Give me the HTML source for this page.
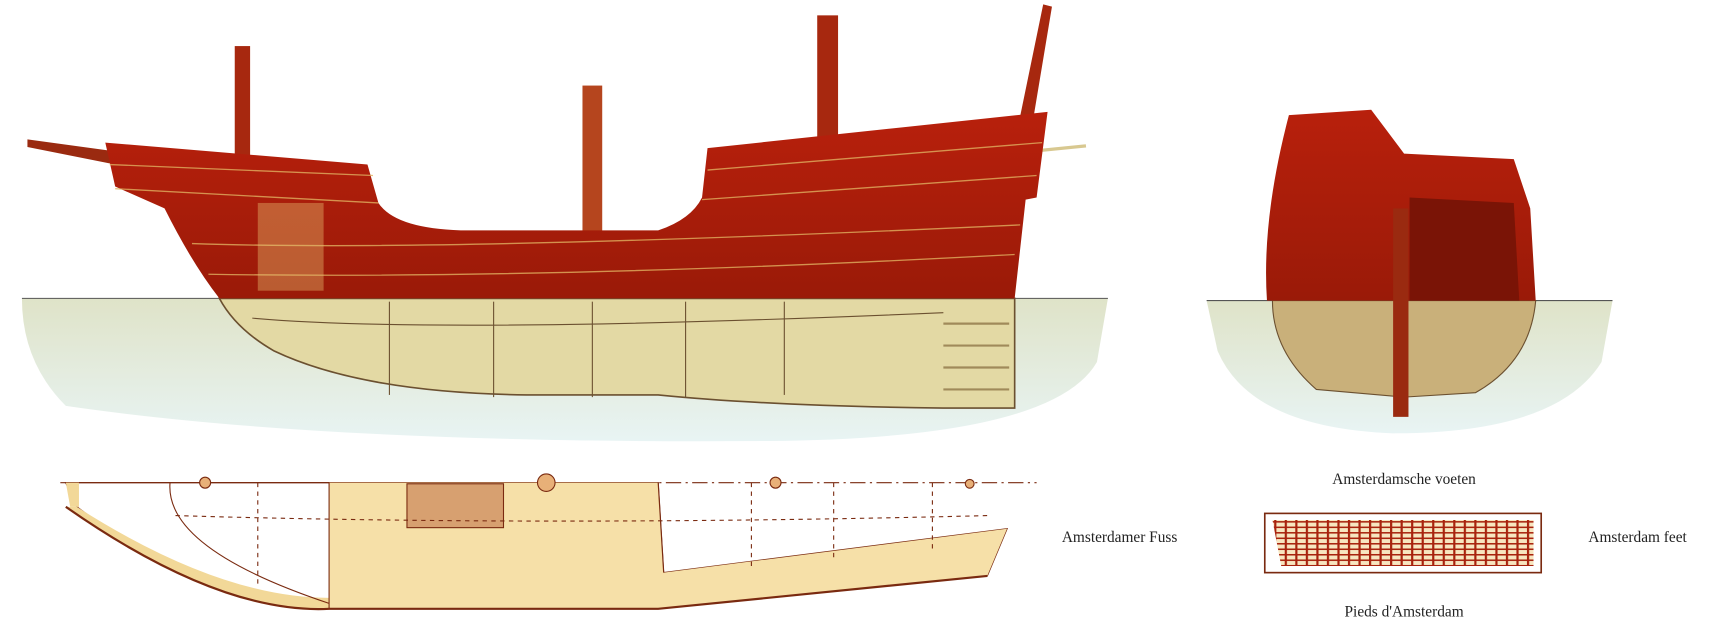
<!DOCTYPE html>
<html><head><meta charset="utf-8"><style>
html,body{margin:0;padding:0;background:#fff;}
svg{display:block;}
text{font-family:"Liberation Serif",serif;font-size:14px;fill:#222;}
</style></head><body>
<svg width="1720" height="622" viewBox="0 0 1568 567" preserveAspectRatio="none" xmlns="http://www.w3.org/2000/svg">
<defs>
<linearGradient id="water" x1="0" y1="0" x2="0" y2="1">
<stop offset="0" stop-color="#dfe3c8"/><stop offset="1" stop-color="#e8f4f4"/></linearGradient>
<linearGradient id="red" x1="0" y1="0" x2="0" y2="1">
<stop offset="0" stop-color="#b8200c"/><stop offset="1" stop-color="#9a1a08"/></linearGradient>
<pattern id="grid" width="9.6" height="5" patternUnits="userSpaceOnUse">
<rect width="9.6" height="5" fill="#f7e6c0"/><rect width="2" height="5" fill="#a8230e"/><rect width="9.6" height="1.4" fill="#a8230e"/></pattern>
</defs>
<path d="M20 272 L1010 272 L1000 330 Q960 400 700 402 Q300 405 60 370 Q20 330 20 272Z" fill="url(#water)"/>
<line x1="20" y1="272" x2="1010" y2="272" stroke="#555" stroke-width="1"/>
<path d="M200 272 L925 272 L925 372 L860 372 Q700 370 600 360 L480 360 Q330 358 250 320 Q215 300 200 272Z" fill="#e3d9a4" stroke="#6b5030" stroke-width="1.5"/>
<path d="M230 290 Q400 305 860 285" fill="none" stroke="#6b5030"/>
<g stroke="#6b5030" stroke-width="1"><line x1="355" y1="275" x2="355" y2="360"/><line x1="450" y1="275" x2="450" y2="362"/><line x1="540" y1="275" x2="540" y2="362"/><line x1="625" y1="275" x2="625" y2="362"/><line x1="715" y1="275" x2="715" y2="360"/></g>
<g stroke="#a08a5a" stroke-width="2"><line x1="860" y1="295" x2="920" y2="295"/><line x1="860" y1="315" x2="920" y2="315"/><line x1="860" y1="335" x2="920" y2="335"/><line x1="860" y1="355" x2="920" y2="355"/></g>
<rect x="214" y="42" width="14" height="100" fill="#a7280f"/>
<rect x="531" y="78" width="18" height="135" fill="#b5451e"/>
<rect x="745" y="14" width="19" height="120" fill="#a7280f"/>
<polygon points="951,4 959,6 942,108 930,106" fill="#a7280f"/>
<polygon points="25,127 105,138 105,150 25,134" fill="#9a2a10"/>
<line x1="950" y1="137" x2="990" y2="133" stroke="#d8c890" stroke-width="3"/>
<path d="M96 130 L335 150 L345 185 Q360 208 420 210 L600 210 Q630 200 640 180 L645 135 L955 102 L945 180 L935 182 L925 272 L200 272 Q175 240 150 190 L105 170 Z" fill="url(#red)"/>
<g stroke="#e0b060" stroke-width="1.2" fill="none" opacity=".8">
<path d="M100 150 L340 160"/><path d="M105 172 L345 185"/>
<path d="M175 222 Q400 230 930 205"/><path d="M190 250 Q500 255 925 232"/>
<path d="M645 155 L950 130"/><path d="M640 182 L945 160"/>
</g>
<g fill="#e8c070"><rect x="235" y="185" width="60" height="80" opacity=".4"/></g>
<path d="M1100 274 L1470 274 L1460 330 Q1420 395 1270 395 Q1140 390 1110 320Z" fill="url(#water)"/>
<line x1="1100" y1="274" x2="1470" y2="274" stroke="#555"/>
<path d="M1160 274 L1400 274 Q1395 330 1345 358 L1280 362 L1200 355 Q1160 320 1160 274Z" fill="#c9b07a" stroke="#6b5030"/>
<path d="M1175 105 L1250 100 L1280 140 L1380 145 L1395 190 L1400 274 L1155 274 Q1150 200 1175 105Z" fill="url(#red)"/>
<path d="M1285 180 L1380 185 L1385 274 L1285 274Z" fill="#7a1406"/>
<rect x="1270" y="190" width="14" height="190" fill="#9a2a10"/>
<line x1="55" y1="440" x2="945" y2="440" stroke="#7a2a10" stroke-dasharray="14,4,2,4"/>
<path d="M60 440 L70 462 Q200 560 300 555 L600 555 L900 525 L918 482 L605 522 L600 440 Z" fill="#fff" stroke="#7a2a10" stroke-width="1.2"/>
<path d="M60 462 Q200 560 300 555 L300 545 Q200 545 70 462Z" fill="#f2d898"/>
<path d="M60 440 L72 440 L72 462 L64 462Z" fill="#f2d898"/>
<path d="M300 440 L600 440 L605 522 L918 482 L900 525 L600 555 L300 555Z" fill="#f6e0a8"/>
<rect x="371" y="441" width="88" height="40" fill="#d7a070" stroke="#7a2a10"/>
<path d="M60 462 Q200 560 300 555 L600 555 L900 525" fill="none" stroke="#7a2a10" stroke-width="2"/>
<line x1="300" y1="440" x2="300" y2="555" stroke="#7a2a10"/>
<line x1="600" y1="440" x2="605" y2="522" stroke="#7a2a10"/>
<g stroke="#7a2a10" stroke-width="1" stroke-dasharray="4,4"><line x1="235" y1="440" x2="235" y2="535"/><line x1="685" y1="440" x2="685" y2="520"/><line x1="760" y1="440" x2="760" y2="510"/><line x1="850" y1="440" x2="850" y2="500"/><path d="M160 470 Q500 480 900 470" fill="none"/></g>
<path d="M155 440 Q150 500 300 550" fill="none" stroke="#7a2a10"/>
<g fill="#e8b078" stroke="#7a2a10"><circle cx="187" cy="440" r="5"/><circle cx="498" cy="440" r="8"/><circle cx="707" cy="440" r="5"/><circle cx="884" cy="441" r="4"/></g>
<text x="1280" y="441" text-anchor="middle">Amsterdamsche voeten</text>
<text x="968" y="494">Amsterdamer Fuss</text>
<text x="1448" y="494">Amsterdam feet</text>
<text x="1280" y="562" text-anchor="middle">Pieds d'Amsterdam</text>
<rect x="1153" y="468" width="252" height="54" fill="#fff" stroke="#7a2a10" stroke-width="1.5"/>
<polygon points="1160,474 1398,474 1398,516 1168,516" fill="url(#grid)"/>
</svg>
</body></html>
